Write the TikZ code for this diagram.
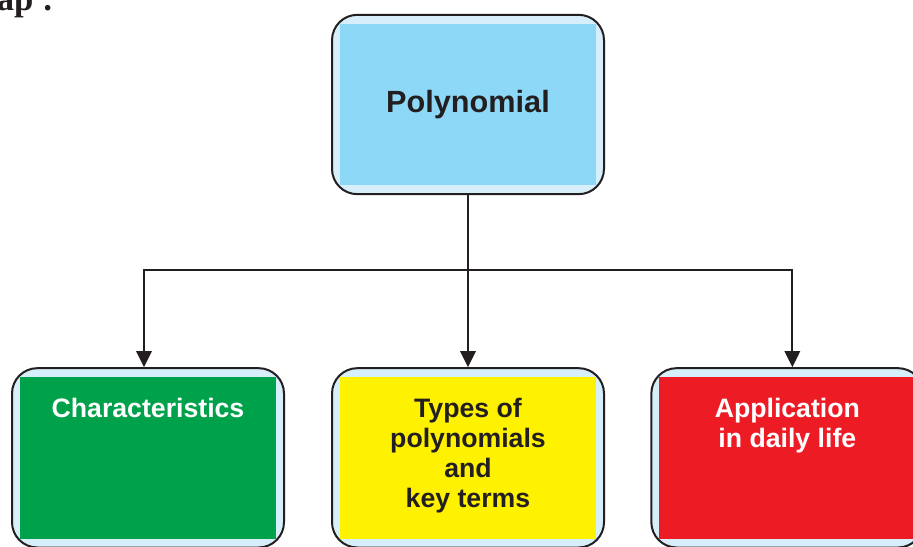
\documentclass[tikz,border=0pt]{standalone}
\usepackage{fontspec}
\setmainfont{Liberation Sans}
\newfontfamily\headfont{Liberation Serif}
\usetikzlibrary{arrows.meta,positioning}
\definecolor{mapline}{HTML}{231F20}
\definecolor{mapstripe}{HTML}{D6EFFB}
\definecolor{mapblue}{HTML}{8ED8F7}
\definecolor{mapgreen}{HTML}{00A14B}
\definecolor{mapyellow}{HTML}{FFF200}
\definecolor{mapred}{HTML}{ED1C24}

\begin{document}
\begin{tikzpicture}[
    x=0.75pt,y=-0.75pt,
    box/.style  = {draw=mapline,line width=1.5pt,fill=mapstripe,
                   rounded corners=19pt,inner sep=0pt,
                   minimum width=204pt,minimum height=134.5pt,
                   path picture={\fill[#1,sharp corners]
                     ([xshift=6pt,yshift=6.75pt]path picture bounding box.south west)
                     rectangle
                     ([xshift=-6pt,yshift=-6.75pt]path picture bounding box.north east);}},
    title/.style = {font=\bfseries\fontsize{23}{27}\selectfont,text=mapline,inner sep=0pt},
    lbl/.style   = {font=\bfseries\fontsize{20}{22.5}\selectfont,align=center,inner sep=0pt},
    conn/.style  = {draw=mapline,line width=1.5pt},
    arr/.style   = {conn,-{Triangle[length=12pt,width=11.5pt]}},
  ]

  \useasboundingbox (0,0) rectangle (913,546);

  % Heading, cut by the page edge
  \node[font=\headfont\bfseries\fontsize{26}{30}\selectfont,text=mapline,
        anchor=base east,inner sep=0pt] (maphead) at (54,11) {Map :};

  % Boxes
  \node[box=mapblue] (poly) at (468,104.5) {};
  \node[title] (polytext) at (poly.center) {Polynomial};

  \node[box=mapyellow,below=129pt of poly] (types) {};
  \node[box=mapgreen,left=34.5pt of types] (charact) {};
  \node[box=mapred,right=34pt of types] (apply) {};

  \node[lbl,text=white,below=23pt of charact.north] (chartext) {Characteristics};
  \node[lbl,text=mapline,below=23pt of types.north] (typestext)
       {Types of\\polynomials\\and\\key terms};
  \node[lbl,text=white,below=23pt of apply.north] (applytext)
       {Application\\in daily life};

  % Connectors
  \coordinate[below=56.25pt of poly.south] (split);
  \draw[conn] (poly.south) -- (split);
  \draw[arr] (split) -| ([xshift=-3pt]charact.north);
  \draw[arr] (split) -- (types.north);
  \draw[arr] (split) -| ([xshift=3.75pt]apply.north);

\end{tikzpicture}
\end{document}
